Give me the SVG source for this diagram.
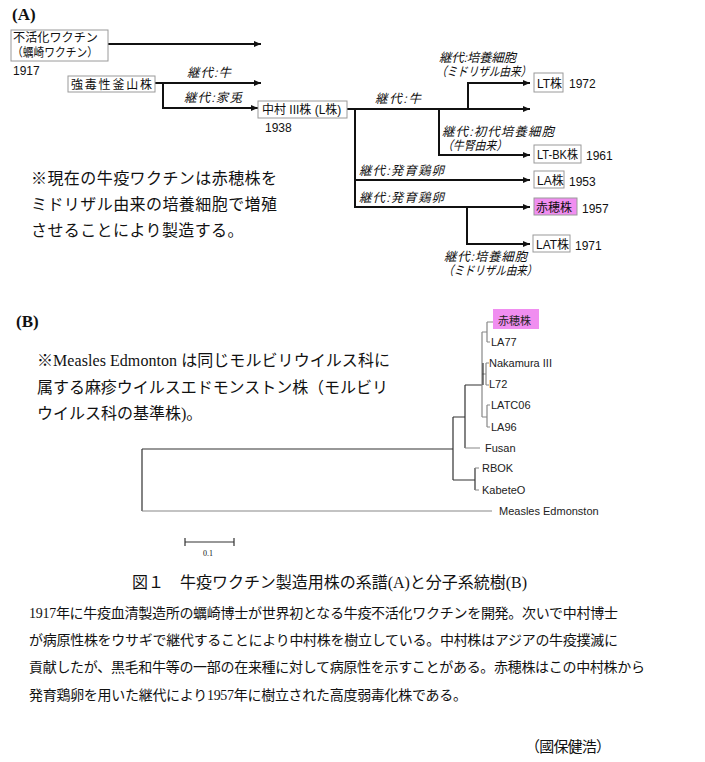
<svg xmlns="http://www.w3.org/2000/svg" width="705" height="762" viewBox="0 0 705 762">
<style>
.bg{fill:#fff}
.box{fill:#fff;stroke:#9a9a9a;stroke-width:1}
.pink{fill:#f08ef0;stroke:#9a9a9a;stroke-width:1}
.lbl{font-family:'Liberation Sans','Noto Sans CJK JP',sans-serif;font-size:12px;fill:#111}
.yr{font-family:'Liberation Sans','Noto Sans CJK JP',sans-serif;font-size:12px;fill:#111}
.it{font-family:'Liberation Sans','Noto Sans CJK JP',sans-serif;font-size:12.5px;fill:#111}
.con{stroke:#111;stroke-width:2;fill:none}
.tree{stroke:#333;stroke-width:1.2;fill:none}
.tg{stroke:#888;stroke-width:1.2;fill:none}
.tl{font-family:'Liberation Sans','Noto Sans CJK JP',sans-serif;font-size:11px;fill:#222}
.ser{font-family:'Liberation Serif','Noto Sans CJK JP',serif;fill:#111}
.hd{font-family:'Liberation Serif','Noto Sans CJK JP',serif;font-weight:bold;font-size:17px;fill:#111}
</style>
<defs>
<marker id="ah" markerUnits="userSpaceOnUse" markerWidth="8" markerHeight="8" refX="7" refY="4" orient="auto">
<path d="M0,1 L7,4 L0,7 Z" fill="#111"/>
</marker>
</defs>
<rect class="bg" x="0" y="0" width="705" height="762"/>

<text class="hd" x="12" y="20">(A)</text>
<text class="hd" x="16" y="327">(B)</text>

<g id="connectors">
<line class="con" x1="108" y1="44" x2="261" y2="44" marker-end="url(#ah)"/>
<polyline class="con" points="155,83 163,83 163,108 258,108" marker-end="url(#ah)"/>
<line class="con" x1="163" y1="83" x2="261" y2="83" marker-end="url(#ah)"/>
<line class="con" x1="347" y1="109" x2="530" y2="109" marker-end="url(#ah)"/>
<polyline class="con" points="355,109 355,207 530,207" marker-end="url(#ah)"/>
<line class="con" x1="355" y1="180" x2="530" y2="180" marker-end="url(#ah)"/>
<polyline class="con" points="439,109 439,155 530,155" marker-end="url(#ah)"/>
<polyline class="con" points="468,109 468,83 530,83" marker-end="url(#ah)"/>
<polyline class="con" points="467,207 467,244 530,244" marker-end="url(#ah)"/>
</g>

<g id="edge-labels">
<text class="it" transform="translate(187,77) skewX(-14)" textLength="44" lengthAdjust="spacing">継代:牛</text>
<text class="it" transform="translate(184,102) skewX(-14)" textLength="58" lengthAdjust="spacing">継代:家兎</text>
<text class="it" transform="translate(375,103) skewX(-14)" textLength="46" lengthAdjust="spacing">継代:牛</text>
<text class="it" transform="translate(439,62) skewX(-14)" textLength="77" lengthAdjust="spacing">継代:培養細胞</text>
<text class="it" transform="translate(436,76) skewX(-14)" textLength="95" lengthAdjust="spacingAndGlyphs">（ミドリザル由来）</text>
<text class="it" transform="translate(442,136) skewX(-14)" textLength="112" lengthAdjust="spacing">継代:初代培養細胞</text>
<text class="it" transform="translate(442,150) skewX(-14)" textLength="65" lengthAdjust="spacingAndGlyphs">（牛腎由来）</text>
<text class="it" transform="translate(359,175) skewX(-14)" textLength="85" lengthAdjust="spacing">継代:発育鶏卵</text>
<text class="it" transform="translate(359,202) skewX(-14)" textLength="85" lengthAdjust="spacing">継代:発育鶏卵</text>
<text class="it" transform="translate(444,261) skewX(-14)" textLength="83" lengthAdjust="spacing">継代:培養細胞</text>
<text class="it" transform="translate(443,275) skewX(-14)" textLength="94" lengthAdjust="spacingAndGlyphs">（ミドリザル由来）</text>
</g>

<g id="node-kakizaki">
<rect class="box" x="11" y="30" width="97" height="31"/>
<text class="lbl" x="13" y="42" font-size="12.5" textLength="85" lengthAdjust="spacingAndGlyphs">不活化ワクチン</text>
<text class="lbl" x="12" y="57" font-size="12.5" textLength="86" lengthAdjust="spacingAndGlyphs">（蠣崎ワクチン）</text>
<text class="yr" x="13" y="75">1917</text>
</g>
<g id="node-busan">
<rect class="box" x="68" y="76" width="87" height="16"/>
<text class="lbl" x="71" y="89" font-size="13" textLength="81" lengthAdjust="spacing">強毒性釜山株</text>
</g>
<g id="node-nakamura">
<rect class="box" x="258" y="101" width="89" height="17"/>
<text class="lbl" x="262" y="114">中村 III株 (L株)</text>
<text class="yr" x="265" y="132">1938</text>
</g>
<g id="node-lt">
<rect class="box" x="534" y="73" width="29" height="19"/>
<text class="lbl" x="537" y="88" font-size="11.5">LT株</text>
<text class="yr" x="569" y="88">1972</text>
</g>
<g id="node-ltbk">
<rect class="box" x="534" y="145" width="47" height="18"/>
<text class="lbl" x="537" y="159" font-size="11.5" textLength="41" lengthAdjust="spacingAndGlyphs">LT-BK株</text>
<text class="yr" x="586" y="160">1961</text>
</g>
<g id="node-la">
<rect class="box" x="534" y="171" width="30" height="17"/>
<text class="lbl" x="537" y="185" font-size="11.5">LA株</text>
<text class="yr" x="569" y="186">1953</text>
</g>
<g id="node-akaho">
<rect class="pink" x="534" y="198" width="43" height="17"/>
<text class="lbl" x="536" y="212" font-size="13">赤穂株</text>
<text class="yr" x="582" y="213">1957</text>
</g>
<g id="node-lat">
<rect class="box" x="533" y="235" width="37" height="17"/>
<text class="lbl" x="536" y="249" font-size="11.5">LAT株</text>
<text class="yr" x="575" y="250">1971</text>
</g>

<g id="note-a">
<text class="ser" font-size="16" x="31" y="184" textLength="246" lengthAdjust="spacing">※現在の牛疫ワクチンは赤穂株を</text>
<text class="ser" font-size="16" x="31" y="210" textLength="246" lengthAdjust="spacing">ミドリザル由来の培養細胞で増殖</text>
<text class="ser" font-size="16" x="31" y="236" letter-spacing="0.4">させることにより製造する。</text>
</g>

<g id="note-b">
<text class="ser" font-size="16" x="37" y="366" textLength="353" lengthAdjust="spacing">※Measles Edmonton は同じモルビリウイルス科に</text>
<text class="ser" font-size="16" x="37" y="393" textLength="351" lengthAdjust="spacing">属する麻疹ウイルスエドモンストン株（モルビリ</text>
<text class="ser" font-size="16" x="37" y="419">ウイルス科の基準株)。</text>
</g>

<g id="tree">
<path class="tree" d="M142,449 H453 M142,449 V511 M453,417 V480 M453,417 H465 M453,480 H475 M465,385 V448 M465,385 H482 M475,468 V490"/>
<path class="tg" d="M142,511 H492 M465,448 H480 M475,468 H479 M475,490 H479 M482,332 V417 M482,332 H487 M487,322 V342 M487,322 H493 M487,342 H490 M482,374 H486 M486,363 V385 M486,363 H489 M486,385 H489 M482,417 H487 M487,405 V427 M487,405 H490 M487,427 H490"/>
<path class="tree" d="M483,363 V385"/>
<g id="leaf-akaho"><rect x="493" y="309" width="46" height="20" fill="#f08ef0"/><text class="tl" x="498" y="325" font-size="13">赤穂株</text></g>
<text class="tl" x="491" y="346">LA77</text>
<text class="tl" x="489" y="367">Nakamura III</text>
<text class="tl" x="489" y="388">L72</text>
<text class="tl" x="491" y="409">LATC06</text>
<text class="tl" x="491" y="431">LA96</text>
<text class="tl" x="485" y="452">Fusan</text>
<text class="tl" x="482" y="472">RBOK</text>
<text class="tl" x="482" y="494">KabeteO</text>
<text class="tl" x="499" y="515">Measles Edmonston</text>
<path class="tree" d="M185,542 H234 M185,538 V546 M234,538 V546"/>
<text class="ser" font-size="8" x="203" y="556">0.1</text>
</g>

<g id="caption">
<text class="ser" font-size="16" x="132" y="588" textLength="395" lengthAdjust="spacing">図１　牛疫ワクチン製造用株の系譜(A)と分子系統樹(B)</text>
<text class="ser" font-size="14" x="29" y="618" textLength="589" lengthAdjust="spacing">1917年に牛疫血清製造所の蠣崎博士が世界初となる牛疫不活化ワクチンを開発。次いで中村博士</text>
<text class="ser" font-size="14" x="29" y="645" textLength="589" lengthAdjust="spacing">が病原性株をウサギで継代することにより中村株を樹立している。中村株はアジアの牛疫撲滅に</text>
<text class="ser" font-size="14" x="29" y="672" textLength="616" lengthAdjust="spacing">貢献したが、黒毛和牛等の一部の在来種に対して病原性を示すことがある。赤穂株はこの中村株から</text>
<text class="ser" font-size="14" x="29" y="700" textLength="438" lengthAdjust="spacing">発育鶏卵を用いた継代により1957年に樹立された高度弱毒化株である。</text>
<text class="ser" font-size="15" x="525" y="752" textLength="86" lengthAdjust="spacing">（國保健浩）</text>
</g>
</svg>
